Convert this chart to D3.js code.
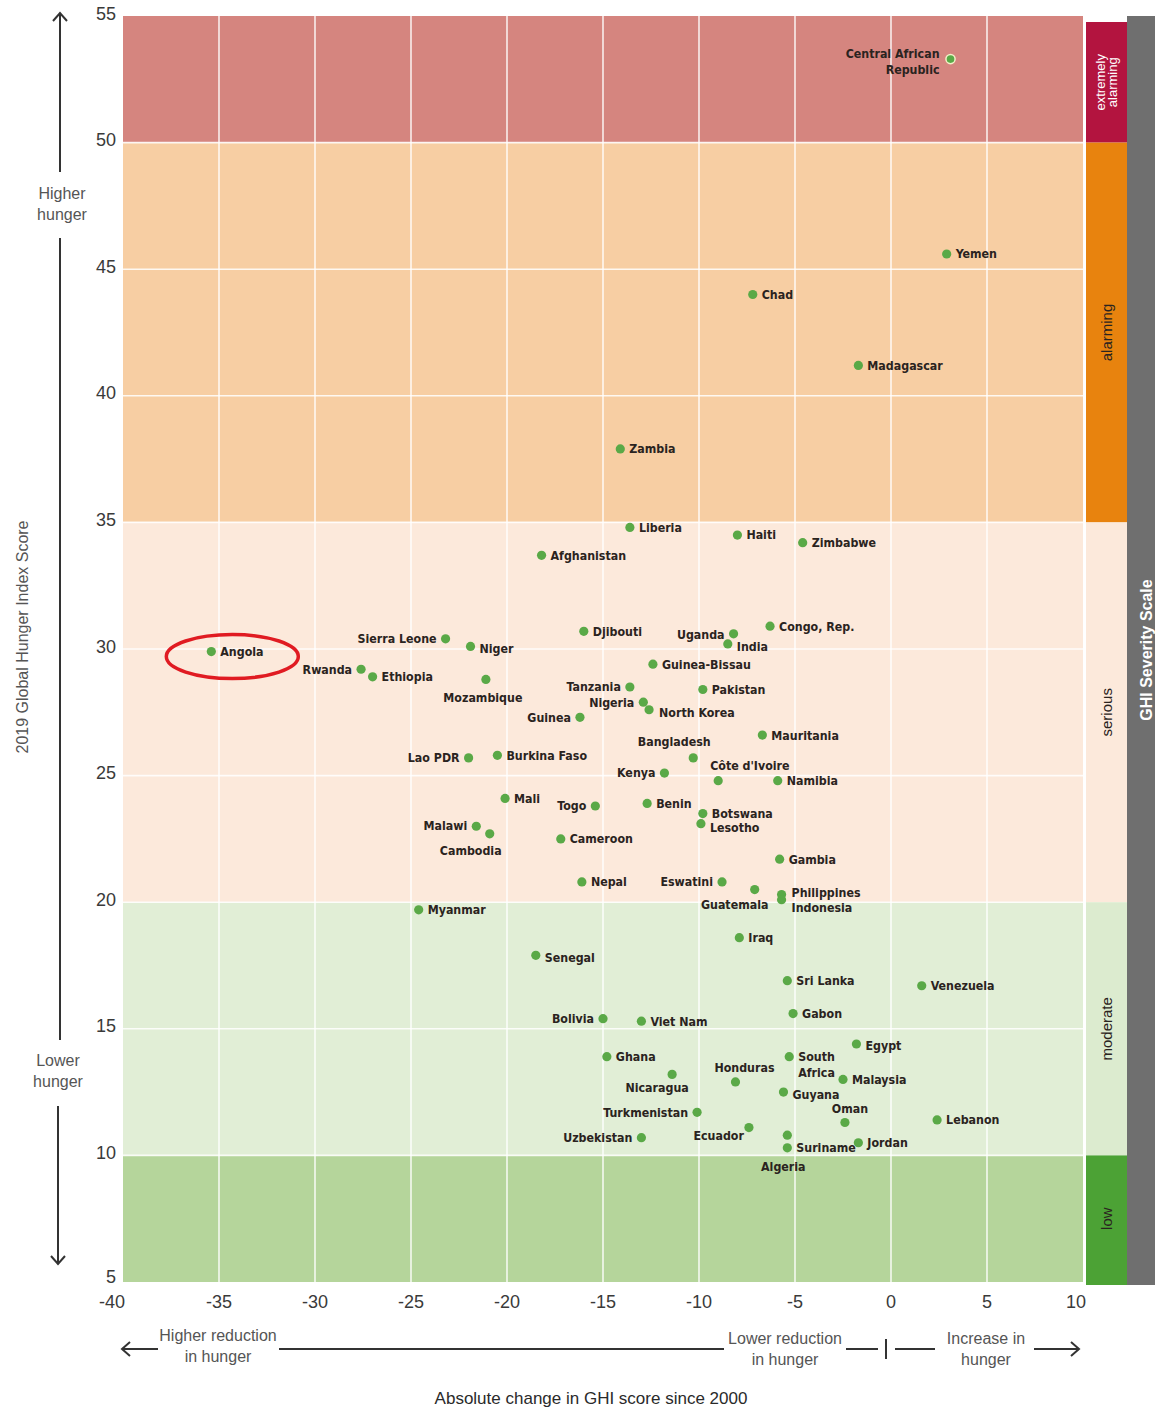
<!DOCTYPE html>
<html>
<head>
<meta charset="utf-8">
<script src="https://cdn.jsdelivr.net/npm/d3@7"></script>
<style>
  body { margin: 0; background: #fff; }
  svg { display: block; }
  .lbl { font-family: 'Liberation Sans Narrow', 'DejaVu Sans Condensed', sans-serif; font-weight: bold; font-size: 12.3px; fill: #2a2320; }
  .tick { font-family: 'Liberation Sans', Arial, sans-serif; font-size: 18px; fill: #3a3a3a; }
  .note { font-family: 'Liberation Sans Narrow', sans-serif; font-size: 16px; fill: #555; }
</style>
</head>
<body>
<svg id="chart"></svg>
<script>
// country, change in GHI since 2000, 2019 GHI score
const countries = ['Central African Republic', 'Yemen', 'Chad', 'Madagascar', 'Zambia', 'Liberia', 'Haiti', 'Zimbabwe',
    'Afghanistan', 'Angola', 'Sierra Leone', 'Niger', 'Rwanda', 'Ethiopia', 'Mozambique', 'Djibouti', 'Uganda', 'India',
    'Congo, Rep.', 'Guinea-Bissau', 'Tanzania', 'Nigeria', 'North Korea', 'Pakistan', 'Guinea', 'Mauritania', 'Bangladesh',
    'Lao PDR', 'Burkina Faso', 'Kenya', "Côte d'Ivoire", 'Namibia', 'Mali', 'Togo', 'Benin', 'Botswana', 'Lesotho',
    'Malawi', 'Cambodia', 'Cameroon', 'Gambia', 'Nepal', 'Eswatini', 'Guatemala', 'Philippines', 'Indonesia', 'Myanmar',
    'Iraq', 'Senegal', 'Sri Lanka', 'Venezuela', 'Gabon', 'Bolivia', 'Viet Nam', 'Egypt', 'Ghana', 'South Africa',
    'Nicaragua', 'Honduras', 'Malaysia', 'Guyana', 'Turkmenistan', 'Oman', 'Lebanon', 'Ecuador', 'Uzbekistan',
    'Algeria', 'Suriname', 'Jordan'];
const change = [3.1, 2.9, -7.2, -1.7, -14.1, -13.6, -8.0, -4.6,
    -18.2, -35.4, -23.2, -21.9, -27.6, -27.0, -21.1, -16.0, -8.2, -8.5,
    -6.3, -12.4, -13.6, -12.9, -12.6, -9.8, -16.2, -6.7, -10.3,
    -22.0, -20.5, -11.8, -9.0, -5.9, -20.1, -15.4, -12.7, -9.8, -9.9,
    -21.6, -20.9, -17.2, -5.8, -16.1, -8.8, -7.1, -5.7, -5.7, -24.6,
    -7.9, -18.5, -5.4, 1.6, -5.1, -15.0, -13.0, -1.8, -14.8, -5.3,
    -11.4, -8.1, -2.5, -5.6, -10.1, -2.4, 2.4, -7.4, -13.0,
    -5.4, -5.4, -1.7];
const score = [53.3, 45.6, 44.0, 41.2, 37.9, 34.8, 34.5, 34.2,
    33.7, 29.9, 30.4, 30.1, 29.2, 28.9, 28.8, 30.7, 30.6, 30.2,
    30.9, 29.4, 28.5, 27.9, 27.6, 28.4, 27.3, 26.6, 25.7,
    25.7, 25.8, 25.1, 24.8, 24.8, 24.1, 23.8, 23.9, 23.5, 23.1,
    23.0, 22.7, 22.5, 21.7, 20.8, 20.8, 20.5, 20.3, 20.1, 19.7,
    18.6, 17.9, 16.9, 16.7, 15.6, 15.4, 15.3, 14.4, 13.9, 13.9,
    13.2, 12.9, 13.0, 12.5, 11.7, 11.3, 11.4, 11.1, 10.7,
    10.8, 10.3, 10.5];

const xTicks = [-40, -35, -30, -25, -20, -15, -10, -5, 0, 5, 10];
const yTicks = [5, 10, 15, 20, 25, 30, 35, 40, 45, 50, 55];

const severityNames = ['extremely alarming', 'alarming', 'serious', 'moderate', 'low'];
const severityFrom = [50, 35, 20, 10, 5];
const severityTo = [55, 50, 35, 20, 10];

// label placement: [anchor, dx, dy, line break]
const place = {
    'Central African Republic': ['end', -11, -5, ['Central African', 'Republic']],
    'Sierra Leone': ['end', -9, 0], 'Niger': ['start', 9, 2], 'Rwanda': ['end', -9, 0],
    'Mozambique': ['middle', -3, 18], 'Uganda': ['end', -9, 1], 'India': ['start', 9, 3],
    'Tanzania': ['end', -9, 0], 'Nigeria': ['end', -9, 0], 'North Korea': ['start', 10, 3],
    'Guinea': ['end', -9, 0], 'Bangladesh': ['middle', -19, -16], 'Lao PDR': ['end', -9, 0],
    'Kenya': ['end', -9, 0], "Côte d'Ivoire": ['start', -8, -15], 'Togo': ['end', -9, 0],
    'Lesotho': ['start', 9, 4], 'Malawi': ['end', -9, -1], 'Cambodia': ['middle', -19, 17],
    'Eswatini': ['end', -9, 0], 'Guatemala': ['middle', -20, 15], 'Philippines': ['start', 10, -2],
    'Indonesia': ['start', 10, 8], 'Senegal': ['start', 9, 2], 'Bolivia': ['end', -9, 0],
    'South Africa': ['start', 9, 0, ['South', 'Africa']], 'Nicaragua': ['middle', -15, 13],
    'Honduras': ['middle', 9, -14], 'Guyana': ['start', 9, 2], 'Turkmenistan': ['end', -9, 0],
    'Oman': ['middle', 5, -14], 'Ecuador': ['end', -5, 8], 'Uzbekistan': ['end', -9, 0],
    'Algeria': ['middle', -4, 31], 'Egypt': ['start', 9, 2]
};

const width = 1155;
const height = 1411;

const x = d3.scaleLinear().domain([-40, 10]).range([123, 1083]);
const y = d3.scaleLinear().domain([5, 55]).range([1282, 16]);

const bandFill = ['#d5857f', '#f7cea3', '#fce9db', '#e1eed6', '#b5d59b'];
const scaleFill = ['#b3143f', '#e8830e', '#fce9db', '#dcebcf', '#4ca235'];
const scaleText = ['#fff', '#2a2320', '#2a2320', '#2a2320', '#2a2320'];

const svg = d3.select('#chart').attr('width', width).attr('height', height);

// severity bands in plot area
svg.append('g')
    .selectAll('rect')
    .data(severityNames)
    .join('rect')
    .attr('x', x(-40))
    .attr('width', x(10) - x(-40))
    .attr('y', (d, i) => y(severityTo[i]))
    .attr('height', (d, i) => y(severityFrom[i]) - y(severityTo[i]))
    .attr('fill', (d, i) => bandFill[i]);

// grid
const grid = svg.append('g').attr('stroke', '#fff').attr('stroke-opacity', 0.85).attr('stroke-width', 1.6);
grid.selectAll('.v')
    .data(xTicks.slice(1, -1))
    .join('line')
    .attr('x1', d => x(d)).attr('x2', d => x(d))
    .attr('y1', y(55)).attr('y2', y(5));
grid.selectAll('.h')
    .data(yTicks.slice(1, -1))
    .join('line')
    .attr('y1', d => y(d)).attr('y2', d => y(d))
    .attr('x1', x(-40)).attr('x2', x(10));

// severity scale column
const sx = 1086, sw = 41;
svg.append('rect').attr('x', sx + sw).attr('y', y(55)).attr('width', width - sx - sw).attr('height', y(5) - y(55) + 3).attr('fill', '#6f6f6f');
svg.append('g')
    .selectAll('rect')
    .data(severityNames)
    .join('rect')
    .attr('x', sx)
    .attr('width', sw)
    .attr('y', (d, i) => y(severityTo[i]) + (i === 0 ? 6 : 0))
    .attr('height', (d, i) => y(severityFrom[i]) - y(severityTo[i]) - (i === 0 ? 6 : 0) + (i === 4 ? 3 : 0))
    .attr('fill', (d, i) => scaleFill[i]);

const sevLabels = svg.append('g')
    .attr('font-family', "'Liberation Sans Narrow', sans-serif")
    .attr('font-size', 15)
    .attr('text-anchor', 'middle');
severityNames.forEach((name, i) => {
    const cy = (y(severityTo[i]) + y(severityFrom[i])) / 2 + (i === 0 ? 3 : 0);
    const t = sevLabels.append('text')
        .attr('transform', `translate(${sx + sw / 2},${cy}) rotate(-90)`)
        .attr('fill', scaleText[i]);
    if (i === 0) {
        t.append('tspan').attr('x', 0).attr('dy', '-0.15em').attr('font-size', 13).text('extremely');
        t.append('tspan').attr('x', 0).attr('dy', '0.95em').attr('font-size', 13).text('alarming');
    } else {
        t.attr('dy', '0.35em').text(name);
    }
});
svg.append('text')
    .attr('transform', `translate(${sx + sw + 19},${650}) rotate(-90)`)
    .attr('text-anchor', 'middle')
    .attr('dy', '0.35em')
    .attr('fill', '#fff')
    .attr('font-family', "'Liberation Sans Narrow', sans-serif")
    .attr('font-weight', 'bold')
    .attr('font-size', 16)
    .text('GHI Severity Scale');

// axes tick labels
svg.append('g')
    .selectAll('text')
    .data(yTicks)
    .join('text')
    .attr('class', 'tick')
    .attr('x', x(-40) - 7)
    .attr('y', d => y(d))
    .attr('dy', d => d === 5 ? '0.05em' : '0.2em')
    .attr('text-anchor', 'end')
    .text(d => d);

svg.append('g')
    .selectAll('text')
    .data(xTicks)
    .join('text')
    .attr('class', 'tick')
    .attr('x', d => x(d) + (d === -40 ? -11 : d === 10 ? -7 : 0))
    .attr('y', 1308)
    .attr('text-anchor', 'middle')
    .text(d => d);

// dots
svg.append('g')
    .selectAll('circle')
    .data(countries)
    .join('circle')
    .attr('cx', (d, i) => x(change[i]))
    .attr('cy', (d, i) => y(score[i]))
    .attr('r', 4.6)
    .attr('fill', '#5aa947')
    .attr('stroke', (d, i) => i === 0 ? '#f2f0c8' : 'none')
    .attr('stroke-width', 1.5);

// country labels
svg.append('g')
    .selectAll('text')
    .data(countries)
    .join('text')
    .attr('class', 'lbl')
    .attr('text-anchor', d => place[d] ? place[d][0] : 'start')
    .attr('x', (d, i) => x(change[i]) + (place[d] ? place[d][1] : 9))
    .attr('y', (d, i) => y(score[i]) + (place[d] ? place[d][2] : 0))
    .attr('dy', '0.36em')
    .each(function (d) {
        const p = place[d];
        const el = d3.select(this);
        if (p && p[3]) {
            const px = el.attr('x');
            el.attr('dy', null);
            p[3].forEach((line, k) => {
                el.append('tspan').attr('x', px).attr('dy', k === 0 ? '0.36em' : '1.3em').text(line);
            });
        } else {
            el.text(d);
        }
    });

// Angola highlight
const ai = countries.indexOf('Angola');
svg.append('ellipse')
    .attr('cx', x(change[ai]) + 21)
    .attr('cy', y(score[ai]) + 5)
    .attr('rx', 66)
    .attr('ry', 22)
    .attr('fill', 'none')
    .attr('stroke', '#e01b22')
    .attr('stroke-width', 3.5);

// y axis title and direction arrow
svg.append('text')
    .attr('transform', 'translate(22,637) rotate(-90)')
    .attr('text-anchor', 'middle')
    .attr('dy', '0.35em')
    .attr('font-family', "'Liberation Sans', Arial, sans-serif")
    .attr('font-size', 16)
    .attr('fill', '#555')
    .text('2019 Global Hunger Index Score');

const arrows = svg.append('g').attr('stroke', '#333').attr('stroke-width', 2).attr('fill', 'none');
arrows.append('path').attr('d', 'M60,13 V172 M53,21 L60,13 L67,21');
arrows.append('path').attr('d', 'M60,238 V1040');
arrows.append('path').attr('d', 'M58,1106 V1264 M51,1256 L58,1264 L65,1256');

const sideNote = (cx, cy, lines) => {
    const t = svg.append('text').attr('class', 'note').attr('text-anchor', 'middle');
    lines.forEach((s, k) => t.append('tspan').attr('x', cx).attr('y', cy + k * 21).text(s));
};
sideNote(62, 199, ['Higher', 'hunger']);
sideNote(58, 1066, ['Lower', 'hunger']);

// x direction notes
const by = 1349;
arrows.append('path').attr('d', `M122,${by} H158 M130,${by - 7} L122,${by} L130,${by + 7}`);
arrows.append('path').attr('d', `M279,${by} H724`);
arrows.append('path').attr('d', `M846,${by} H878 M886,${by - 10} V${by + 10} M895,${by} H935`);
arrows.append('path').attr('d', `M1034,${by} H1079 M1071,${by - 7} L1079,${by} L1071,${by + 7}`);
sideNote(218, 1341, ['Higher reduction', 'in hunger']);
sideNote(785, 1344, ['Lower reduction', 'in hunger']);
sideNote(986, 1344, ['Increase in', 'hunger']);

svg.append('text')
    .attr('x', 591)
    .attr('y', 1404)
    .attr('text-anchor', 'middle')
    .attr('font-family', "'Liberation Sans', Arial, sans-serif")
    .attr('font-size', 17)
    .attr('fill', '#2a2a2a')
    .text('Absolute change in GHI score since 2000');
</script>
</body>
</html>
